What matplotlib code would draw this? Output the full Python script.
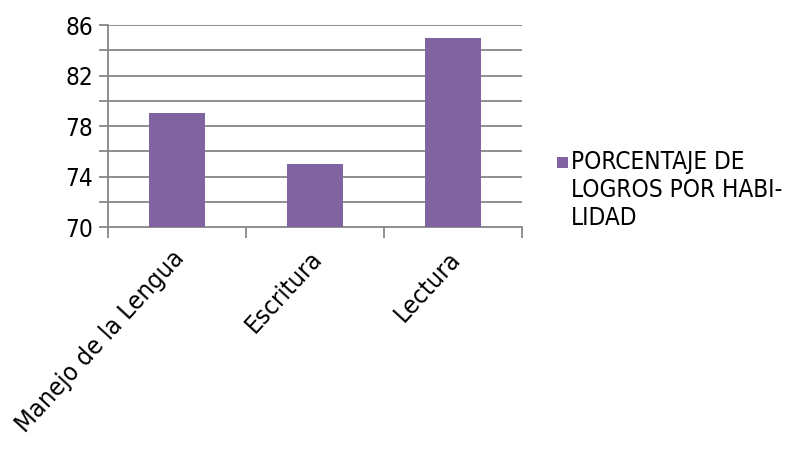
import matplotlib
matplotlib.use("Agg")
import matplotlib.pyplot as plt
from matplotlib.patches import Patch, Rectangle
from matplotlib.legend_handler import HandlerPatch
import numpy as np

categories = ["Manejo de la Lengua", "Escritura", "Lectura"]
values = [79, 75, 85]
series_name = "PORCENTAJE DE\nLOGROS POR HABI-\nLIDAD"
yticks_major = [70, 74, 78, 82, 86]

plt.rcParams['font.family'] = ['DejaVu Sans']
plt.rcParams['font.stretch'] = 'condensed'

FS = 17.5
fig = plt.figure(figsize=(7.89, 4.49), dpi=100)
ax = fig.add_axes([0.1369, 0.4944, 0.6616 - 0.1369, 0.9443 - 0.4944])

color = "#8064A2"
grid_c = "#868686"
x = np.arange(len(categories))
ax.bar(x, values, width=0.4, color=color, zorder=3, bottom=0)
ax.set_ylim(70, 86)
ax.set_xlim(-0.5, len(categories) - 0.5)

ax.set_yticks(yticks_major)
ax.set_yticks(np.arange(70, 87, 2), minor=True)
for yv in np.arange(72, 87, 2):
    ax.axhline(yv, color=grid_c, lw=1.3, zorder=1)
ax.tick_params(axis='y', which='both', length=6.5, width=1.3, color=grid_c,
               labelsize=FS, pad=4)
ax.tick_params(axis='y', which='minor', labelleft=False)

ax.set_xticks(np.arange(-0.5, len(categories), 1.0))
ax.set_xticklabels([])
ax.tick_params(axis='x', which='major', length=8, width=1.3, color=grid_c, direction='out')
for xi, lab in zip(x, categories):
    ax.annotate(lab, xy=(xi, 0), xycoords=('data', 'axes fraction'),
                xytext=(-4, -14), textcoords='offset points',
                rotation=47.5, ha='right', va='top', fontsize=FS + 0.8,
                rotation_mode='anchor')

for s in ['top', 'right']:
    ax.spines[s].set_visible(False)
for s in ['left', 'bottom']:
    ax.spines[s].set_color(grid_c)
    ax.spines[s].set_linewidth(1.3)


def top_square(legend, orig_handle, xdescent, ydescent, width, height, fontsize):
    side = width
    cy = -ydescent + height / 2 + 1.16 * fontsize
    return Rectangle((-xdescent, cy - side / 2), side, side)


handles = [Patch(facecolor=color, label=series_name)]
fig.legend(handles=handles, loc='upper left', bbox_to_anchor=(0.706, 0.666),
           frameon=False, fontsize=FS, handlelength=0.46, handleheight=0.46,
           handletextpad=0.1, borderaxespad=0, borderpad=0, labelspacing=0,
           handler_map={Patch: HandlerPatch(patch_func=top_square)})

fig.savefig("out.png", dpi=100)
